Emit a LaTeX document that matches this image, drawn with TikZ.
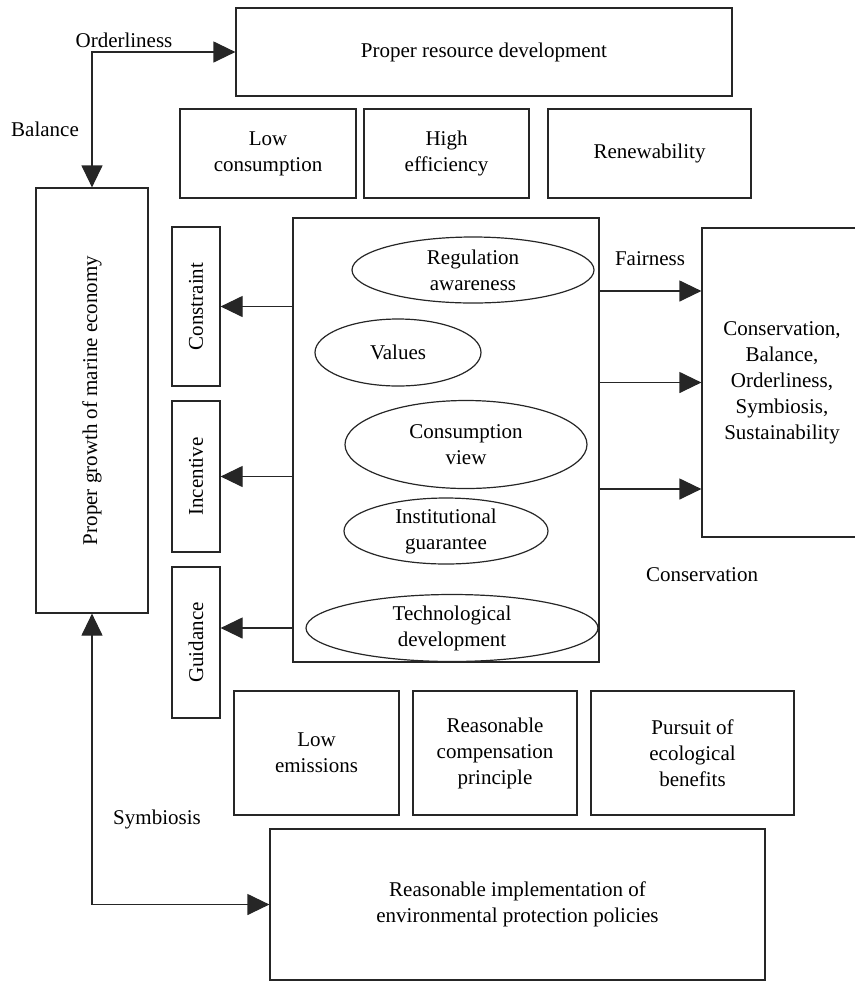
\documentclass[tikz,border=0pt]{standalone}
\usepackage{fontspec}
\setmainfont{Liberation Serif}
\usetikzlibrary{arrows.meta, shapes.geometric}

\begin{document}
\begin{tikzpicture}[
    x=0.5pt, y=-0.5pt,
    font=\fontsize{10.5}{13}\selectfont,
    >={Triangle[length=11pt, width=10.5pt]},
    link_arrow/.style={draw=black!85, line width=0.6pt, ->},
    pair_arrow/.style={draw=black!85, line width=0.6pt, <->},
    % Boxes and ovals
    box_node/.style={rectangle, draw=black!85, line width=0.6pt, inner sep=0pt, align=center},
    oval_node/.style={ellipse, draw=black!85, line width=0.6pt, inner sep=0pt, align=center},
    tag_node/.style={inner sep=1pt}
]
    \useasboundingbox (0,0) rectangle (855,981);

    % =========================================================================
    % TOP: RESOURCE DEVELOPMENT
    % =========================================================================
    \node [box_node, minimum width=248pt, minimum height=44pt] (res) at (484, 52) {Proper resource development};
    \node [box_node, minimum width=88pt, minimum height=44.5pt] (lowc) at (268, 153.5) {Low\\consumption};
    \node [box_node, minimum width=82.5pt, minimum height=44.5pt] (higheff) at (446.5, 153.5) {High\\efficiency};
    \node [box_node, minimum width=101.5pt, minimum height=44.5pt] (renew) at (649.5, 153.5) {Renewability};

    % =========================================================================
    % LEFT: MARINE ECONOMY AND MECHANISMS
    % =========================================================================
    \node [box_node, minimum width=56pt, minimum height=212.5pt] (econ) at (92, 400.5) {\rotatebox{90}{Proper growth of marine economy}};
    \node [box_node, minimum width=24pt, minimum height=79.5pt] (cons) at (196, 306.5) {\rotatebox{90}{Constraint}};
    \node [box_node, minimum width=24pt, minimum height=75.5pt] (incent) at (196, 476.5) {\rotatebox{90}{Incentive}};
    \node [box_node, minimum width=24pt, minimum height=75.5pt] (guide) at (196, 642.5) {\rotatebox{90}{Guidance}};

    % =========================================================================
    % CENTRE: CORE FACTORS
    % =========================================================================
    \node [box_node, minimum width=153pt, minimum height=222pt] (core) at (446, 440) {};
    \node [oval_node, minimum width=121pt, minimum height=33pt] (reg) at (473, 270) {Regulation\\awareness};
    \node [oval_node, minimum width=83pt, minimum height=33.5pt] (values) at (398, 352.5) {Values};
    \node [oval_node, minimum width=121pt, minimum height=44pt] (cview) at (466, 444.5) {Consumption\\view};
    \node [oval_node, minimum width=102pt, minimum height=33pt] (inst) at (446, 531) {Institutional\\guarantee};
    \node [oval_node, minimum width=146pt, minimum height=33.5pt] (tech) at (452, 628) {Technological\\development};

    \draw [link_arrow] (core.west |- cons) -- (cons.east);
    \draw [link_arrow] (core.west |- incent) -- (incent.east);
    \draw [link_arrow] (core.west |- tech) -- (guide.east |- tech);

    % =========================================================================
    % RIGHT: PRINCIPLES
    % =========================================================================
    \node [box_node, minimum width=80pt, minimum height=154.5pt] (princ) at (782, 382.5) {Conservation,\\Balance,\\Orderliness,\\Symbiosis,\\Sustainability};

    \draw [link_arrow] (core.east |- 0,291) -- (princ.west |- 0,291);
    \draw [link_arrow] (core.east |- princ) -- (princ.west);
    \draw [link_arrow] (core.east |- 0,489) -- (princ.west |- 0,489);

    \node [tag_node] (fair) at (650, 259) {Fairness};
    \node [tag_node] (conserv) at (702, 575) {Conservation};

    % =========================================================================
    % BOTTOM: ECOLOGY AND POLICIES
    % =========================================================================
    \node [box_node, minimum width=82.5pt, minimum height=62pt] (lowem) at (316.5, 753) {Low\\emissions};
    \node [box_node, minimum width=82pt, minimum height=62pt] (comp) at (495, 753) {Reasonable\\compensation\\principle};
    \node [box_node, minimum width=101.5pt, minimum height=62pt] (pursuit) at (692.5, 753) {Pursuit of\\ecological\\benefits};
    \node [box_node, minimum width=247.5pt, minimum height=75.5pt] (policy) at (517.5, 904.5) {Reasonable implementation of\\environmental protection policies};

    % Outer links
    \draw [pair_arrow] (econ.north) |- (res.west);
    \draw [pair_arrow] (econ.south) |- (policy.west);

    \node [tag_node] (order) at (124, 40) {Orderliness};
    \node [tag_node] (bal) at (45, 129) {Balance};
    \node [tag_node] (symb) at (157, 819) {Symbiosis};
\end{tikzpicture}
\end{document}
